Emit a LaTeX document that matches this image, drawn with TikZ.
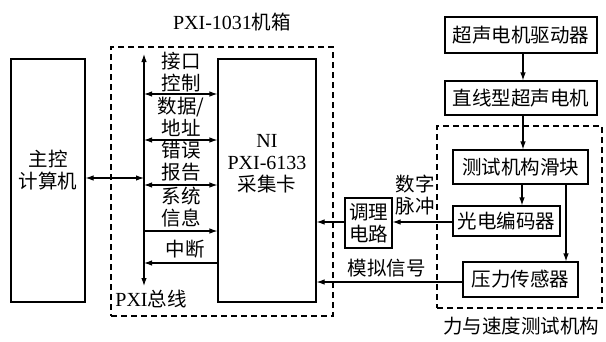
\documentclass[tikz,border=0pt]{standalone}
\usepackage{fontspec}
\setmainfont{Liberation Serif}
\newfontfamily\cjk{Noto Sans CJK SC}
\usetikzlibrary{arrows.meta}
\tikzset{
  base/.style={font=\fontsize{20}{22}\selectfont},
  cn/.style={font=\fontsize{19.5}{22}\selectfont\cjk, align=center, inner sep=0pt},
  box/.style={draw, line width=1.1pt, inner sep=0pt},
  dbox/.style={draw, line width=1.1pt, dash pattern=on 6pt off 4pt, inner sep=0pt},
  conn/.style={line width=1.1pt, -{Latex[length=8pt,width=5.5pt]}},
  dconn/.style={line width=1.1pt, {Latex[length=8pt,width=5.5pt]}-{Latex[length=8pt,width=5.5pt]}}
}
\begin{document}
\begin{tikzpicture}[x=1pt,y=-1pt]
\useasboundingbox (0,0) rectangle (606,341);
% chassis
\node[dbox, minimum width=222pt, minimum height=269pt] (chassis) at (222,181.5) {};
\node[base, inner sep=0pt] (title) at (232,22) {PXI-1031{\cjk\fontsize{19.5}{22}\selectfont 机箱}};
\node[box, minimum width=74pt, minimum height=243pt] (host) at (48,180.5) {};
\node[cn] (hostlbl) at (48,170) {主控\\计算机};
\node[box, minimum width=98pt, minimum height=243pt] (card) at (267,180.5) {};
\node[base, align=center, inner sep=0pt] (cardlbl) at (267,164) {NI\\PXI-6133\\{\cjk\fontsize{19.5}{22}\selectfont 采集卡}};
% bus
\coordinate (bustop) at (144,54);
\coordinate (busbot) at (144,286);
\draw[dconn] (bustop) -- (busbot);
\coordinate (y1) at (0,94);
\coordinate (y2) at (0,140);
\coordinate (y3) at (0,185);
\coordinate (y4) at (0,231);
\coordinate (y5) at (0,263);
\coordinate (y6) at (0,178);
\draw[dconn] (bustop |- y1) -- (card.west |- y1);
\draw[dconn] (bustop |- y2) -- (card.west |- y2);
\draw[dconn] (bustop |- y3) -- (card.west |- y3);
\draw[conn] (bustop |- y4) -- (card.west |- y4);
\draw[conn] (card.west |- y5) -- (bustop |- y5);
\draw[dconn] (host.east |- y6) -- (bustop |- y6);
\node[cn] (l1) at (181,72) {接口\\控制};
\node[cn] (l2) at (181,117) {数据/\\地址};
\node[cn] (l3) at (181,161) {错误\\报告};
\node[cn] (l4) at (181,207) {系统\\信息};
\node[cn] (l5) at (185,249) {中断};
\node[base, inner sep=0pt] (buslbl) at (151,299) {PXI{\cjk\fontsize{19.5}{22}\selectfont 总线}};
% right side
\node[box, minimum width=152pt, minimum height=36pt, cn] (drv) at (521,35) {超声电机驱动器};
\node[box, minimum width=152pt, minimum height=34pt, cn] (mot) at (521,98) {直线型超声电机};
\node[dbox, minimum width=165pt, minimum height=182pt] (mech) at (519.5,217) {};
\node[cn] (mechlbl) at (521,326) {力与速度测试机构};
\node[box, minimum width=135pt, minimum height=34pt, cn] (sld) at (520.5,167) {测试机构滑块};
\node[box, minimum width=107pt, minimum height=30pt, cn] (enc) at (506.5,221) {光电编码器};
\node[box, minimum width=115pt, minimum height=35pt, cn] (prs) at (520.5,279.5) {压力传感器};
\node[box, minimum width=47pt, minimum height=50pt, cn] (cond) at (368.5,223) {调理\\电路};
\coordinate (xa) at (523,0);
\coordinate (xb) at (522,0);
\coordinate (xc) at (566,0);
\coordinate (ya) at (0,222);
\coordinate (yb) at (0,282);
\draw[conn] (drv.south -| xa) -- (mot.north -| xa);
\draw[conn] (mot.south -| xa) -- (sld.north -| xa);
\draw[conn] (sld.south -| xb) -- (enc.north -| xb);
\draw[conn] (sld.south -| xc) -- (prs.north -| xc);
\draw[conn] (enc.west |- ya) -- (cond.east |- ya);
\draw[conn] (cond.west |- ya) -- (card.east |- ya);
\draw[conn] (prs.west |- yb) -- (card.east |- yb);
\node[cn] (dig) at (415,195) {数字\\脉冲};
\node[cn] (ana) at (386.5,268) {模拟信号};
\end{tikzpicture}
\end{document}
